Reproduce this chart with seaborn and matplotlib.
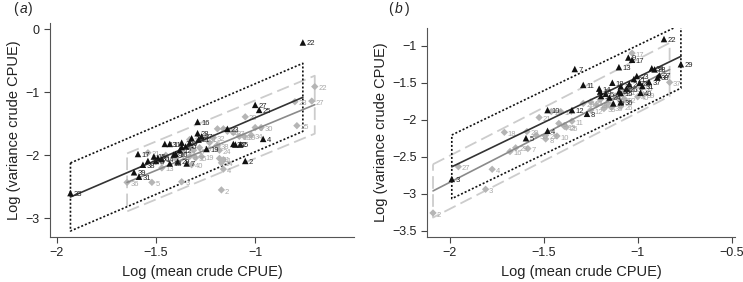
import numpy as np
import pandas as pd
import seaborn as sns
import matplotlib
matplotlib.use("Agg")
import matplotlib.pyplot as plt

# ---- panel (a) ----
a_blk_lab = [22, 27, 25, 16, 28, 37, 21, 24, 40, 20, 11, 13, 17, 15, 30, 35, 8, 14,
             39, 38, 31, 18, 29, 7, 10, 19, 12, 4, 5, 36, 32, 2, 33, 23, 9, 1, 6]
a_blk_x = [-0.76, -1.00, -0.98, -1.29, -1.29, -1.27, -1.285, -1.32, -1.35, -1.37, -1.43, -1.455,
           -1.59, -1.51, -1.49, -1.54, -1.50, -1.47, -1.61, -1.565, -1.585, -1.43, -1.39, -1.345,
           -1.40, -1.245, -1.38, -0.96, -1.075, -1.11, -1.10, -1.05, -1.93, -1.14, -1.41, -1.37, -1.33]
a_blk_y = [-0.21, -1.20, -1.28, -1.47, -1.65, -1.70, -1.75, -1.73, -1.86, -1.80, -1.82, -1.82,
           -1.98, -2.02, -2.04, -2.09, -2.09, -2.06, -2.27, -2.15, -2.34, -2.13, -2.10, -2.13,
           -1.98, -1.90, -1.92, -1.74, -1.83, -1.82, -1.83, -2.09, -2.60, -1.58, -1.99, -1.87, -1.80]

a_gry_lab = [22, 27, 23, 25, 20, 6, 30, 34, 39, 18, 37, 29, 28, 15, 32, 31, 38, 24, 16, 17,
             12, 26, 11, 1, 14, 19, 35, 4, 2, 40, 10, 3, 5, 36, 13, 21, 33, 8, 9, 7]
a_gry_x = [-0.70, -0.715, -0.80, -0.79, -1.05, -1.00, -0.97, -1.02, -1.055, -1.08, -1.11, -1.14,
           -1.16, -1.19, -1.21, -1.25, -1.19, -1.18, -1.28, -1.31, -1.33, -1.23, -1.18, -1.16,
           -1.17, -1.27, -1.30, -1.16, -1.17, -1.32, -1.36, -1.37, -1.52, -1.645, -1.47, -1.54,
           -1.45, -1.50, -1.33, -1.40]
a_gry_y = [-0.91, -1.14, -1.15, -1.53, -1.39, -1.56, -1.56, -1.68, -1.70, -1.70, -1.64, -1.62,
           -1.58, -1.58, -1.72, -1.73, -1.85, -1.92, -1.88, -1.92, -1.75, -1.80, -2.05, -2.07,
           -2.12, -2.02, -2.04, -2.22, -2.55, -2.15, -1.96, -2.42, -2.43, -2.43, -2.20, -1.96,
           -2.00, -2.10, -2.02, -2.05]

# ---- panel (b) ----
b_blk_lab = [7, 12, 10, 4, 5, 3, 8, 11, 22, 29, 9, 17, 13, 34, 28, 27, 38, 37, 23, 21, 2, 35,
             18, 14, 6, 16, 1, 30, 31, 20, 40, 15, 36, 19, 24, 26]
b_blk_x = [-1.335, -1.35, -1.48, -1.48, -1.595, -1.99, -1.27, -1.29, -0.86, -0.77, -1.05, -1.03,
           -1.10, -0.925, -0.91, -0.885, -0.895, -0.94, -1.005, -1.02, -1.045, -1.09, -1.135,
           -1.205, -1.17, -1.20, -1.195, -1.10, -0.975, -0.99, -0.985, -1.09, -1.09, -1.13,
           -1.15, -1.06]
b_blk_y = [-1.315, -1.87, -1.87, -2.15, -2.25, -2.80, -1.92, -1.53, -0.91, -1.25, -1.16, -1.19,
           -1.29, -1.305, -1.32, -1.40, -1.43, -1.49, -1.41, -1.45, -1.52, -1.55, -1.50, -1.58,
           -1.65, -1.62, -1.68, -1.62, -1.545, -1.50, -1.635, -1.64, -1.76, -1.78, -1.70, -1.58]

b_gry_lab = [27, 4, 3, 2, 16, 29, 7, 18, 20, 30, 22, 8, 10, 21, 24, 14, 9, 15, 25, 11, 28, 23,
             12, 35, 19, 1, 5, 17, 37, 32, 39, 40, 33, 36, 26, 38, 31, 34, 6, 13]
b_gry_x = [-1.955, -1.775, -1.81, -2.09, -1.68, -1.65, -1.585, -1.71, -1.59, -1.54, -1.49, -1.49,
           -1.43, -1.525, -1.46, -1.41, -1.42, -1.39, -1.38, -1.35, -1.29, -1.25, -1.25, -1.18,
           -1.22, -1.17, -1.16, -1.03, -0.83, -1.07, -0.97, -1.00, -1.04, -1.14, -1.09, -0.98,
           -1.07, -1.10, -1.12, -1.20]
b_gry_y = [-2.635, -2.67, -2.94, -3.26, -2.43, -2.38, -2.39, -2.17, -2.16, -2.21, -2.21, -2.26,
           -2.22, -1.97, -1.89, -1.89, -2.05, -2.09, -2.10, -2.02, -1.78, -1.76, -1.87, -1.85,
           -1.80, -1.82, -1.78, -1.10, -1.495, -1.72, -1.66, -1.69, -1.58, -1.83, -1.82, -1.57,
           -1.62, -1.72, -1.68, -1.73]

# half widths of the prediction boxes
a_blk_half, a_gry_half = 0.54, 0.46
b_blk_half, b_gry_half = 0.43, 0.36

sns.set_style("ticks")
plt.rcParams["font.family"] = ["Liberation Sans", "DejaVu Sans"]

BLK = "#111111"
GRY = "#b5b5b5"


def draw_box(ax, x, y, half, **kw):
    slope, icpt = np.polyfit(x, y, 1)
    x0, x1 = min(x), max(x)
    bx = [x0, x1, x1, x0, x0]
    by = [icpt + slope * x0 + half, icpt + slope * x1 + half,
          icpt + slope * x1 - half, icpt + slope * x0 - half, icpt + slope * x0 + half]
    ax.plot(bx, by, **kw)


def panel(ax, bl, bx, by, gl, gx, gy, bh, gh):
    blk = pd.DataFrame({"lab": bl, "x": bx, "y": by})
    gry = pd.DataFrame({"lab": gl, "x": gx, "y": gy})
    draw_box(ax, gx, gy, gh, color="#cccccc", lw=1.3, ls=(0, (7, 3)), zorder=1)
    draw_box(ax, bx, by, bh, color=BLK, lw=1.2, ls=(0, (1.2, 1.2)), zorder=1)
    sns.scatterplot(data=gry, x="x", y="y", marker="D", s=14, color=GRY,
                    edgecolor="none", ax=ax, zorder=2)
    for lab, x, y in zip(gl, gx, gy):
        ax.annotate(str(lab), (x, y), xytext=(2.5, -1.5),
                    textcoords="offset points", fontsize=5.5, color="#a8a8a8",
                    va="center", ha="left", zorder=2)
    sns.regplot(data=gry, x="x", y="y", scatter=False, ci=None, truncate=True,
                color="#8a8a8a", line_kws={"lw": 1.2, "zorder": 3}, ax=ax)
    sns.regplot(data=blk, x="x", y="y", scatter=False, ci=None, truncate=True,
                color="#333333", line_kws={"lw": 1.2, "zorder": 4}, ax=ax)
    sns.scatterplot(data=blk, x="x", y="y", marker="^", s=22, color=BLK,
                    edgecolor="none", ax=ax, zorder=5)
    for lab, x, y in zip(bl, bx, by):
        ax.annotate(str(lab), (x, y), xytext=(2.5, -1),
                    textcoords="offset points", fontsize=5.5, color="#222222",
                    va="center", ha="left", zorder=5)
    ax.set_xlabel("Log (mean crude CPUE)", fontsize=10.5, color="#222222")
    ax.set_ylabel("Log (variance crude CPUE)", fontsize=10.5, color="#222222", labelpad=3)
    ax.set_xticks([-2, -1.5, -1, -0.5])
    ax.set_xticklabels(["\u22122", "\u22121.5", "\u22121", "\u22120.5"])
    ax.tick_params(labelsize=9, colors="#444444", labelcolor="#222222",
                   length=4, width=0.8)
    for s in ["left", "bottom"]:
        ax.spines[s].set_color("#555555")
        ax.spines[s].set_linewidth(0.8)
    sns.despine(ax=ax)


fig = plt.figure(figsize=(7.43, 2.82), dpi=100)
ax1 = fig.add_axes([0.0673, 0.1596, 0.409, 0.759])
ax2 = fig.add_axes([0.5747, 0.1596, 0.4145, 0.741])

panel(ax1, a_blk_lab, a_blk_x, a_blk_y, a_gry_lab, a_gry_x, a_gry_y, a_blk_half, a_gry_half)
ax1.set_xlim(-2.033, -0.503)
ax1.set_ylim(-3.297, 0.10)
ax1.set_yticks([0, -1, -2, -3])
ax1.set_yticklabels(["0", "\u22121", "\u22122", "\u22123"])

panel(ax2, b_blk_lab, b_blk_x, b_blk_y, b_gry_lab, b_gry_x, b_gry_y, b_blk_half, b_gry_half)
ax2.set_xlim(-2.122, -0.482)
ax2.set_ylim(-3.585, -0.761)
ax2.set_yticks([-1, -1.5, -2, -2.5, -3, -3.5])
ax2.set_yticklabels(["\u22121", "\u22121.5", "\u22122", "\u22122.5", "\u22123", "\u22123.5"])

fig.text(0.017, 0.968, "(", fontsize=10, va="center")
fig.text(0.026, 0.968, "a", fontsize=10, style="italic", va="center")
fig.text(0.038, 0.968, ")", fontsize=10, va="center")
fig.text(0.523, 0.968, "(", fontsize=10, va="center")
fig.text(0.532, 0.968, "b", fontsize=10, style="italic", va="center")
fig.text(0.545, 0.968, ")", fontsize=10, va="center")

fig.savefig("out.png", dpi=100)
